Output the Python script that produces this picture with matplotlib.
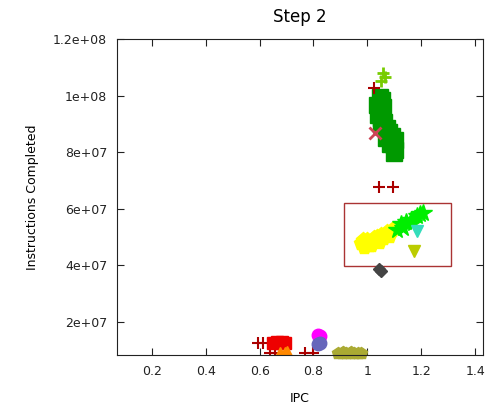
import matplotlib
matplotlib.use("Agg")
import matplotlib.pyplot as plt
from matplotlib.patches import Rectangle
from matplotlib.ticker import FixedLocator

# series: (ipc, instructions)
green_x = [1.048, 1.056, 1.037, 1.044, 1.040, 1.052, 1.063, 1.074, 1.081, 1.093, 1.104, 1.100, 1.104, 1.100,
           1.060, 1.052, 1.070, 1.085]
green_y = [9.95e7, 9.84e7, 9.66e7, 9.49e7, 9.31e7, 9.20e7, 9.06e7, 8.85e7, 8.71e7, 8.57e7, 8.42e7, 8.25e7, 8.07e7, 7.96e7,
           9.60e7, 9.00e7, 8.50e7, 8.30e7]

lime_plus_x = [1.060, 1.067, 1.052]
lime_plus_y = [1.08e8, 1.065e8, 1.05e8]

darkred_plus_x = [1.026, 1.044, 1.096, 0.593, 0.611, 0.637, 0.656, 0.767, 0.800]
darkred_plus_y = [1.027e8, 6.76e7, 6.76e7, 1.24e7, 1.24e7, 9.1e6, 9.1e6, 9.1e6, 9.1e6]

cross_x = [1.030]
cross_y = [8.67e7]

yellow_x = [0.978, 1.000, 1.026, 1.052, 1.074, 1.093, 0.989, 1.015, 1.044, 1.081, 0.985, 1.035, 1.060, 1.005]
yellow_y = [4.78e7, 4.88e7, 4.96e7, 5.06e7, 5.17e7, 5.24e7, 4.64e7, 4.71e7, 4.81e7, 5.03e7, 4.90e7, 5.0e7, 4.95e7, 4.70e7]

bright_x = [1.111, 1.126, 1.144, 1.163, 1.185, 1.207, 1.133, 1.170, 1.195]
bright_y = [5.24e7, 5.45e7, 5.52e7, 5.59e7, 5.73e7, 5.84e7, 5.31e7, 5.50e7, 5.80e7]

cyan_x = [1.185]
cyan_y = [5.2e7]

olive_tri_x = [1.174]
olive_tri_y = [4.5e7]

gray_x = [1.044, 1.052]
gray_y = [3.88e7, 3.78e7]

red_sq_x = [0.648, 0.663, 0.674, 0.685, 0.693]
red_sq_y = [1.24e7, 1.28e7, 1.24e7, 1.28e7, 1.24e7]

orange_x = [0.674, 0.693, 0.700]
orange_y = [9.0e6, 9.0e6, 9.2e6]

magenta_x = [0.815, 0.826]
magenta_y = [1.53e7, 1.50e7]

slate_x = [0.815, 0.826]
slate_y = [1.22e7, 1.26e7]

olive_x = [0.89, 0.905, 0.92, 0.935, 0.95, 0.965, 0.975, 0.91, 0.94]
olive_y = [9.0e6, 9.0e6, 9.0e6, 9.0e6, 9.0e6, 9.0e6, 9.0e6, 9.4e6, 9.4e6]

box_x0, box_x1 = 0.915, 1.311
box_y0, box_y1 = 3.96e7, 6.19e7

xticks = [0.2, 0.4, 0.6, 0.8, 1.0, 1.2, 1.4]
xtick_labels = ["0.2", "0.4", "0.6", "0.8", "1", "1.2", "1.4"]
yticks = [2e7, 4e7, 6e7, 8e7, 1e8, 1.2e8]
ytick_labels = ["2e+07", "4e+07", "6e+07", "8e+07", "1e+08", "1.2e+08"]

fig = plt.figure(figsize=(4.89, 4.07), dpi=100)
ax = fig.add_axes([0.239, 0.128, 0.749, 0.776])

ax.plot(green_x, green_y, "s", color="#009900", ms=11, mec="#009900")
ax.plot(lime_plus_x, lime_plus_y, "+", color="#77cc00", ms=8, mew=2)
ax.plot(darkred_plus_x, darkred_plus_y, "+", color="#aa0000", ms=8, mew=1.5)
ax.plot(cross_x, cross_y, "x", color="#cc4455", ms=8, mew=2)
ax.plot(yellow_x, yellow_y, "p", color="#ffff00", ms=11)
ax.plot(bright_x, bright_y, "*", color="#00ee00", ms=13)
ax.plot(cyan_x, cyan_y, "v", color="#33ddbb", ms=9)
ax.plot(olive_tri_x, olive_tri_y, "v", color="#bbcc00", ms=9)
ax.plot(gray_x, gray_y, "D", color="#444444", ms=6)
ax.plot(red_sq_x, red_sq_y, "s", color="#ee0000", ms=9)
ax.plot(orange_x, orange_y, "^", color="#ff8800", ms=9)
ax.plot(magenta_x, magenta_y, "o", color="#ff00ff", ms=9)
ax.plot(slate_x, slate_y, "o", color="#6666bb", ms=9)
ax.plot(olive_x, olive_y, "p", color="#aaaa33", ms=9, clip_on=False)

ax.add_patch(Rectangle((box_x0, box_y0), box_x1 - box_x0, box_y1 - box_y0,
                       fill=False, edgecolor="#aa3333", lw=1))

ax.set_xlim(0.07, 1.43)
ax.set_ylim(8.3e6, 1.2e8)
ax.xaxis.set_major_locator(FixedLocator(xticks))
ax.set_xticklabels(xtick_labels)
ax.yaxis.set_major_locator(FixedLocator(yticks))
ax.set_yticklabels(ytick_labels)
ax.tick_params(direction="in", top=True, right=True, length=5, labelsize=9, colors="#222222", pad=7)
for s in ax.spines.values():
    s.set_color("#222222")

ax.set_xlabel("IPC", fontsize=9, labelpad=10)
ax.set_ylabel("Instructions Completed", fontsize=9, labelpad=10)
ax.set_title("Step 2", fontsize=12, pad=12)

fig.savefig("out.png", dpi=100)
